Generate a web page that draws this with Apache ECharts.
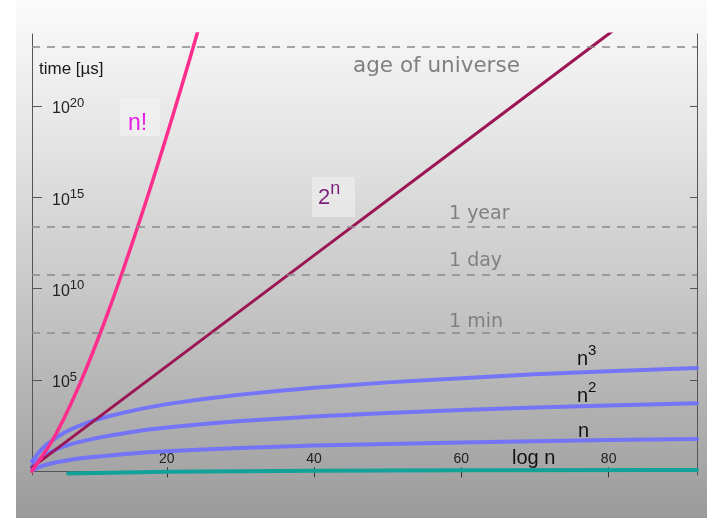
<!DOCTYPE html>
<html lang="en">
<head>
    <meta charset="UTF-8">
    <title>Growth of running time</title>
    <script src="https://cdn.jsdelivr.net/npm/echarts@6/dist/echarts.min.js"></script>
    <style>
        html, body { margin: 0; padding: 0; background: #fff; }
        #charts { width: 707px; height: 518px; }
    </style>
</head>
<body>
<div id="charts"></div>
<script>
    // x = n, y = log10(time in µs)
    var xTicks = [20, 40, 60, 80];
    var yTicks = [5, 10, 15, 20];

    var factN = [1.7, 3, 4, 5, 6, 7, 8, 9, 10, 11, 12, 13, 14, 15, 16, 17, 18, 19, 20, 21, 22, 23, 24, 25];
    var factV = [0.0, 0.78, 1.38, 2.08, 2.86, 3.7, 4.6, 5.56, 6.56, 7.6, 8.68, 9.79, 10.94, 12.12,
                 13.32, 14.55, 15.8, 17.08, 18.39, 19.71, 21.05, 22.41, 23.79, 25.19];

    var expN = [1.7, 20, 40, 60, 80, 82];
    var expV = [0.22, 5.76, 11.82, 17.88, 23.94, 24.55];

    var polyN = [1.7, 2, 2.5, 3, 3.5, 4, 5, 6, 7, 8, 10, 12, 14, 17, 20, 25, 30, 35, 40, 50, 60, 70, 80, 92];
    var cubeV = [0.55, 0.7, 0.98, 1.2, 1.4, 1.56, 1.85, 2.1, 2.3, 2.48, 2.78, 3.0, 3.2, 3.46, 3.68, 3.96,
                 4.2, 4.4, 4.58, 4.87, 5.1, 5.31, 5.48, 5.66];
    var sqV = [0.26, 0.4, 0.6, 0.75, 0.88, 1.0, 1.2, 1.36, 1.49, 1.6, 1.78, 1.94, 2.07, 2.26, 2.4, 2.59,
               2.75, 2.88, 3.0, 3.2, 3.36, 3.49, 3.61, 3.73];
    var linV = [0.03, 0.1, 0.2, 0.28, 0.35, 0.4, 0.5, 0.57, 0.64, 0.7, 0.78, 0.86, 0.93, 1.03, 1.1, 1.2,
                1.28, 1.35, 1.41, 1.5, 1.58, 1.65, 1.71, 1.77];

    var logN = [6.6, 20, 40, 60, 92];
    var logV = [-0.12, -0.02, 0.03, 0.06, 0.08];

    // reference times: age of universe, 1 year, 1 day, 1 min
    var refNames = ['age of universe', '1 year', '1 day', '1 min'];
    var refV = [23.24, 13.37, 10.74, 7.57];

    function pairs(xs, ys) {
        return xs.map(function (x, i) { return [x, ys[i]]; });
    }

    var font = 'Liberation Sans';
    var boxColor = '#555';
    var blue = 'rgba(110,110,255,0.9)';

    function curve(name, xs, ys, color, width) {
        return {
            name: name,
            type: 'line',
            data: pairs(xs, ys),
            showSymbol: false,
            smooth: false,
            silent: true,
            clip: true,
            lineStyle: { color: color, width: width, join: 'round', cap: 'round' }
        };
    }

    function supText(base, sup, color, size, supSize) {
        return {
            text: '{b|' + base + '}{s|' + sup + '}',
            rich: {
                b: { fontSize: size, fill: color, fontFamily: font, padding: [9, 0, 0, 0] },
                s: { fontSize: supSize, fill: color, fontFamily: font, padding: [0, 0, 8, 0] }
            }
        };
    }

    var option = {
        animation: false,
        grid: { left: 32, right: 10, top: 34, bottom: 43 },
        xAxis: [{
            type: 'value', min: 1.7, max: 92,
            axisLine: { show: true, lineStyle: { color: boxColor, width: 1 } },
            axisTick: { show: true, inside: true, length: 4, customValues: xTicks, lineStyle: { color: '#333' } },
            axisLabel: { inside: true, margin: 9, customValues: xTicks, color: '#222', fontSize: 14, fontFamily: font },
            splitLine: { show: false }
        }, {
            type: 'value', min: 1.7, max: 92, position: 'top',
            axisLine: { show: true, lineStyle: { color: boxColor, width: 1 } },
            axisTick: { show: true, inside: true, length: 6, customValues: xTicks, lineStyle: { color: '#333' } },
            axisLabel: { show: false },
            splitLine: { show: false }
        }],
        yAxis: [{
            type: 'value', min: -0.2, max: 23.94,
            axisLine: { show: true, lineStyle: { color: boxColor, width: 1 } },
            axisTick: { show: true, inside: true, length: 10, customValues: yTicks, lineStyle: { color: '#555' } },
            axisLabel: {
                inside: true, margin: 20, customValues: yTicks,
                formatter: function (v) { return '{b|10}{s|' + v + '}'; },
                rich: {
                    b: { fontSize: 16, color: '#222', fontFamily: font, padding: [6, 0, 0, 0] },
                    s: { fontSize: 13, color: '#222', fontFamily: font, padding: [0, 0, 6, 0] }
                }
            },
            splitLine: { show: false }
        }, {
            type: 'value', min: -0.2, max: 23.94, position: 'right',
            axisLine: { show: true, lineStyle: { color: boxColor, width: 1 } },
            axisTick: { show: true, inside: true, length: 7, customValues: yTicks, lineStyle: { color: '#555' } },
            axisLabel: { show: false },
            splitLine: { show: false }
        }],
        graphic: [{
            type: 'rect', z: -100, silent: true,
            shape: { x: 16, y: 0, width: 691, height: 518 },
            style: {
                fill: new echarts.graphic.LinearGradient(0, 0, 0, 1, [
                    { offset: 0, color: '#fbfbfb' },
                    { offset: 0.3, color: '#e2e2e2' },
                    { offset: 0.9, color: '#a6a6a6' },
                    { offset: 1, color: '#9a9a9a' }
                ])
            }
        }, {
            type: 'rect', z: -50, silent: true,
            shape: { x: 120, y: 98, width: 40, height: 38 },
            style: { fill: 'rgba(240,240,240,0.8)' }
        }, {
            type: 'rect', z: -50, silent: true,
            shape: { x: 312, y: 177, width: 43, height: 40 },
            style: { fill: 'rgba(238,238,238,0.7)' }
        }, {
            type: 'text', left: 39, top: 61,
            style: { text: 'time [µs]', fontSize: 17, fill: '#1a1a1a', fontFamily: font }
        }, {
            type: 'text', left: 128, top: 112,
            style: { text: 'n!', fontSize: 23, fill: '#e61ee6', fontFamily: font }
        }, {
            type: 'text', left: 318, top: 180,
            style: supText('2', 'n', '#7a1f7a', 22, 18)
        }, {
            type: 'text', left: 353, top: 55,
            style: { text: refNames[0], fontSize: 21.5, fill: '#808080', fontFamily: 'DejaVu Sans' }
        }, {
            type: 'text', left: 449, top: 205,
            style: { text: refNames[1], fontSize: 19, fill: '#808080', fontFamily: 'DejaVu Sans' }
        }, {
            type: 'text', left: 449, top: 252,
            style: { text: refNames[2], fontSize: 19, fill: '#808080', fontFamily: 'DejaVu Sans' }
        }, {
            type: 'text', left: 449, top: 313,
            style: { text: refNames[3], fontSize: 19, fill: '#808080', fontFamily: 'DejaVu Sans' }
        }, {
            type: 'text', left: 577, top: 343,
            style: supText('n', '3', '#111', 20, 15)
        }, {
            type: 'text', left: 577, top: 380,
            style: supText('n', '2', '#111', 20, 15)
        }, {
            type: 'text', left: 578, top: 421,
            style: { text: 'n', fontSize: 20, fill: '#111', fontFamily: font }
        }, {
            type: 'text', left: 512, top: 448,
            style: { text: 'log n', fontSize: 20, fill: '#111', fontFamily: font }
        }],
        series: [
            {
                name: 'ref',
                type: 'line',
                data: [],
                silent: true,
                markLine: {
                    silent: true,
                    symbol: ['none', 'none'],
                    label: { show: false },
                    lineStyle: { color: '#8a8a8a', width: 1.5, type: [8, 7] },
                    data: refV.map(function (v) { return { yAxis: v }; })
                }
            },
            curve('log n', logN, logV, '#12a29a', 4),
            curve('n', polyN, linV, blue, 4),
            curve('n^2', polyN, sqV, blue, 4),
            curve('n^3', polyN, cubeV, blue, 4),
            curve('2^n', expN, expV, '#9c1655', 3),
            curve('n!', factN, factV, '#ff2d8c', 3.5)
        ]
    };

    var myChart = echarts.init(document.getElementById('charts'));
    myChart.setOption(option);
</script>
</body>
</html>
